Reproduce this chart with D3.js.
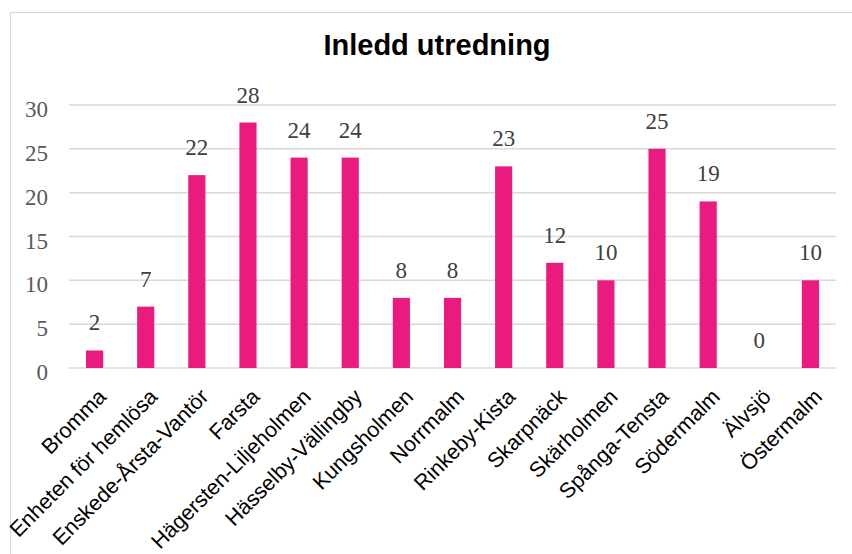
<!DOCTYPE html>
<html lang="sv">
<head>
<meta charset="UTF-8"/>
<title>Inledd utredning</title>
<script src="https://d3js.org/d3.v7.min.js"></script>
<style>
  body { margin: 0; background: #fff; }
  .tick text { font-family: "Liberation Serif", "Times New Roman", serif; font-size: 23px; fill: #595959; }
</style>
</head>
<body>
<svg id="chart" width="852" height="554"></svg>
<script>
// data
var categories = ["Bromma", "Enheten för hemlösa", "Enskede-Årsta-Vantör", "Farsta",
  "Hägersten-Liljeholmen", "Hässelby-Vällingby", "Kungsholmen", "Norrmalm",
  "Rinkeby-Kista", "Skarpnäck", "Skärholmen", "Spånga-Tensta", "Södermalm",
  "Älvsjö", "Östermalm"];
var values = [2, 7, 22, 28, 24, 24, 8, 8, 23, 12, 10, 25, 19, 0, 10];
var yTicks = [0, 5, 10, 15, 20, 25, 30];

var svg = d3.select("#chart");

// chart frame
svg.append("rect")
  .attr("x", 10.5).attr("y", 12.5)
  .attr("width", 900).attr("height", 600)
  .attr("fill", "none").attr("stroke", "#d9d9d9").attr("stroke-width", 1.2);

svg.append("text")
  .attr("x", 437).attr("y", 55)
  .attr("text-anchor", "middle")
  .style("font-family", "Liberation Sans, Arial, sans-serif")
  .style("font-size", "29px").style("font-weight", "bold")
  .text("Inledd utredning");

var plotL = 69, plotR = 836, plotT = 105, plotB = 368;

var x = d3.scaleBand().domain(categories).range([plotL, plotR]).paddingInner(0.665).paddingOuter(0.3325);
var y = d3.scaleLinear().domain([0, 30]).range([plotB, plotT]);

// gridlines
svg.append("g")
  .selectAll("line")
  .data(yTicks)
  .enter().append("line")
  .attr("x1", plotL).attr("x2", plotR)
  .attr("y1", function(d) { return y(d); }).attr("y2", function(d) { return y(d); })
  .attr("stroke", "#d9d9d9").attr("stroke-width", 1.5);

// y axis labels
var yAxis = svg.append("g")
  .attr("transform", "translate(48,0)")
  .call(d3.axisLeft(y).tickValues(yTicks).tickSize(0).tickPadding(0));
yAxis.select(".domain").remove();
yAxis.selectAll(".tick text").attr("dy", "0.5em");

// bars
svg.selectAll(".bar")
  .data(values)
  .enter().append("rect")
  .attr("x", function(d, i) { return x(categories[i]); })
  .attr("y", function(d) { return y(d); })
  .attr("width", x.bandwidth())
  .attr("height", function(d) { return plotB - y(d); })
  .attr("fill", "#ea1a7e");

// value labels
svg.selectAll(".lbl")
  .data(values)
  .enter().append("text")
  .attr("x", function(d, i) { return x(categories[i]) + x.bandwidth() / 2; })
  .attr("y", function(d) { return y(d) - 20; })
  .attr("text-anchor", "middle")
  .style("font-family", "Liberation Serif, Times New Roman, serif")
  .style("font-size", "23px")
  .style("fill", "#404040")
  .text(function(d) { return d; });

// category labels (baseline end placed just below the axis)
svg.selectAll(".cat")
  .data(categories)
  .enter().append("text")
  .attr("transform", function(d) {
    var cx = x(d) + x.bandwidth() / 2 + 13;
    return "translate(" + cx + "," + (plotB + 30) + ") rotate(-45)";
  })
  .attr("text-anchor", "end")
  .style("font-family", "Liberation Sans, Arial, sans-serif")
  .style("font-size", "21.5px")
  .style("fill", "#000")
  .text(function(d) { return d; });
</script>
</body>
</html>
